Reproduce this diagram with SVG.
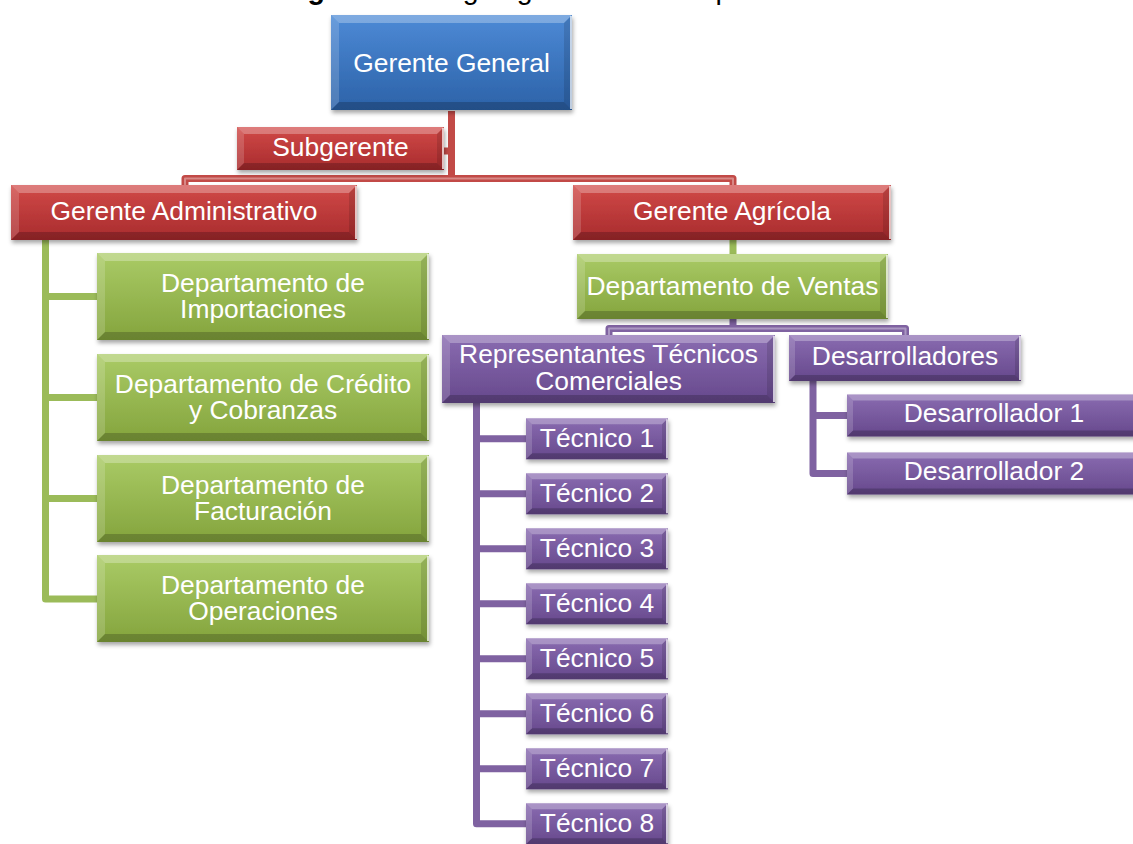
<svg xmlns="http://www.w3.org/2000/svg" xmlns:xlink="http://www.w3.org/1999/xlink" width="1133" height="844" viewBox="0 0 1133 844">
  <style>
    .t { font-family: "Liberation Sans", Arial, sans-serif; font-size: 26.4px; fill: #ffffff; text-anchor: middle; }
    .title { font-family: "Liberation Sans", Arial, sans-serif; font-size: 28.6px; fill: #000000; }
    .bt { fill: #ffffff; opacity: 0.28; }
    .bl { fill: #ffffff; opacity: 0.16; }
    .bb { fill: #000000; opacity: 0.2; }
    .br { fill: #000000; opacity: 0.12; }
    .edge { stroke: #ffffff; stroke-width: 2; opacity: 0.7; fill: none; }
    .blue { fill: url(#gBlue); filter: url(#shadow); }
    .red { fill: url(#gRed); filter: url(#shadow); }
    .green { fill: url(#gGreen); filter: url(#shadow); }
    .purple { fill: url(#gPurple); filter: url(#shadow); }
    .wire { fill: none; stroke-width: 7; stroke-linejoin: round; }
    .wire-hi { fill: none; stroke-width: 2; stroke-linejoin: round; opacity: 0.35; stroke: #ffffff; }
    .w-red { stroke: #c24a47; }
    .w-green { stroke: #9bbb59; }
    .w-purple { stroke: #7f62a1; }
  </style>
  <defs>
    <linearGradient id="gBlue" x1="0" y1="0" x2="0" y2="1">
      <stop offset="0" stop-color="#4d8ad6"/>
      <stop offset="1" stop-color="#2c62a8"/>
    </linearGradient>
    <linearGradient id="gRed" x1="0" y1="0" x2="0" y2="1">
      <stop offset="0" stop-color="#d14a48"/>
      <stop offset="1" stop-color="#a82b2d"/>
    </linearGradient>
    <linearGradient id="gGreen" x1="0" y1="0" x2="0" y2="1">
      <stop offset="0" stop-color="#aacb66"/>
      <stop offset="1" stop-color="#84a43d"/>
    </linearGradient>
    <linearGradient id="gPurple" x1="0" y1="0" x2="0" y2="1">
      <stop offset="0" stop-color="#8a6cb1"/>
      <stop offset="1" stop-color="#66488c"/>
    </linearGradient>
    <filter id="shadow" x="-10%" y="-20%" width="120%" height="160%">
      <feDropShadow dx="1" dy="3" stdDeviation="2" flood-color="#000000" flood-opacity="0.35"/>
    </filter>

    <!-- Department box (green, 332x87) -->
    <g id="deptBox">
      <rect class="green" width="332" height="87"/>
      <polygon class="bt" points="0,0 332,0 324,8 8,8"/>
      <polygon class="bl" points="0,0 8,8 8,79 0,87"/>
      <polygon class="bb" points="0,87 8,79 324,79 332,87"/>
      <polygon class="br" points="332,0 332,87 324,79 324,8"/>
      <line class="edge" x1="331" y1="1" x2="331" y2="86"/>
    </g>
    <!-- Technician box (purple, 142x41) -->
    <g id="tecBox">
      <rect class="purple" width="142" height="41"/>
      <polygon class="bt" points="0,0 142,0 136,6 6,6"/>
      <polygon class="bl" points="0,0 6,6 6,35 0,41"/>
      <polygon class="bb" points="0,41 6,35 136,35 142,41"/>
      <polygon class="br" points="142,0 142,41 136,35 136,6"/>
      <line class="edge" x1="141" y1="1" x2="141" y2="40"/>
    </g>
    <!-- Developer box (purple, 294x42) -->
    <g id="devBox">
      <rect class="purple" width="294" height="42"/>
      <polygon class="bt" points="0,0 294,0 288,6 6,6"/>
      <polygon class="bl" points="0,0 6,6 6,36 0,42"/>
      <polygon class="bb" points="0,42 6,36 288,36 294,42"/>
      <polygon class="br" points="294,0 294,42 288,36 288,6"/>
      <line class="edge" x1="293" y1="1" x2="293" y2="41"/>
    </g>
  </defs>

  <rect width="1133" height="844" fill="#ffffff"/>

  <!-- Caption, running off the top edge -->
  <text class="title" y="-1"><tspan x="282" font-weight="bold">Figura 1.</tspan><tspan x="431">Organigrama de la empresa</tspan></text>

  <!-- Connectors -->
  <g id="connectors">
    <path class="wire w-red" d="M451.5 111 V180 M443 151 H451.5 M185 186 V178.5 H733 V186"/>
    <path class="wire-hi" d="M185 186 V178.5 H733 V186"/>
    <path class="wire w-green" d="M45.5 240 V599 H98 M45.5 296.5 H98 M45.5 397.5 H98 M45.5 498.5 H98 M733 240 V255"/>
    <path class="wire w-purple" d="M733 318 V328.5 M609 336 V328.5 H905.5 V336"/>
    <path class="wire-hi" d="M609 336 V328.5 H905.5 V336"/>
    <path class="wire w-purple" d="M476.5 403 V823.8 H527 M476.5 438.8 H527 M476.5 493.8 H527 M476.5 548.8 H527 M476.5 603.8 H527 M476.5 658.8 H527 M476.5 713.8 H527 M476.5 768.8 H527"/>
    <path class="wire w-purple" d="M813 381 V473.5 H848 M813 415.5 H848"/>
  </g>

  <!-- Nodes -->
  <g id="gerente-general" transform="translate(331,15)">
    <rect class="blue" width="241" height="95"/>
    <polygon class="bt" points="0,0 241,0 233,8 8,8"/>
    <polygon class="bl" points="0,0 8,8 8,87 0,95"/>
    <polygon class="bb" points="0,95 8,87 233,87 241,95"/>
    <polygon class="br" points="241,0 241,95 233,87 233,8"/>
    <line class="edge" x1="240" y1="1" x2="240" y2="94"/>
    <text class="t" x="120.5" y="57">Gerente General</text>
  </g>

  <g id="subgerente" transform="translate(237,127)">
    <rect class="red" width="207" height="43"/>
    <polygon class="bt" points="0,0 207,0 200,7 7,7"/>
    <polygon class="bl" points="0,0 7,7 7,36 0,43"/>
    <polygon class="bb" points="0,43 7,36 200,36 207,43"/>
    <polygon class="br" points="207,0 207,43 200,36 200,7"/>
    <line class="edge" x1="206" y1="1" x2="206" y2="42"/>
    <text class="t" x="103.5" y="29">Subgerente</text>
  </g>

  <g id="gerente-administrativo" transform="translate(11,185)">
    <rect class="red" width="346" height="55"/>
    <polygon class="bt" points="0,0 346,0 338,8 8,8"/>
    <polygon class="bl" points="0,0 8,8 8,47 0,55"/>
    <polygon class="bb" points="0,55 8,47 338,47 346,55"/>
    <polygon class="br" points="346,0 346,55 338,47 338,8"/>
    <line class="edge" x1="345" y1="1" x2="345" y2="54"/>
    <text class="t" x="173" y="34.5">Gerente Administrativo</text>
  </g>

  <g id="gerente-agricola" transform="translate(573,185)">
    <rect class="red" width="318" height="55"/>
    <polygon class="bt" points="0,0 318,0 310,8 8,8"/>
    <polygon class="bl" points="0,0 8,8 8,47 0,55"/>
    <polygon class="bb" points="0,55 8,47 310,47 318,55"/>
    <polygon class="br" points="318,0 318,55 310,47 310,8"/>
    <line class="edge" x1="317" y1="1" x2="317" y2="54"/>
    <text class="t" x="159" y="34.5">Gerente Agrícola</text>
  </g>

  <g id="dep-importaciones" transform="translate(97,253)">
    <use href="#deptBox"/>
    <text class="t" x="166" y="38.6">Departamento de</text>
    <text class="t" x="166" y="65.3">Importaciones</text>
  </g>
  <g id="dep-credito" transform="translate(97,354)">
    <use href="#deptBox"/>
    <text class="t" x="166" y="38.6">Departamento de Crédito</text>
    <text class="t" x="166" y="65.3">y Cobranzas</text>
  </g>
  <g id="dep-facturacion" transform="translate(97,455)">
    <use href="#deptBox"/>
    <text class="t" x="166" y="38.6">Departamento de</text>
    <text class="t" x="166" y="65.3">Facturación</text>
  </g>
  <g id="dep-operaciones" transform="translate(97,555)">
    <use href="#deptBox"/>
    <text class="t" x="166" y="38.6">Departamento de</text>
    <text class="t" x="166" y="65.3">Operaciones</text>
  </g>

  <g id="dep-ventas" transform="translate(577,254)">
    <rect class="green" width="311" height="65"/>
    <polygon class="bt" points="0,0 311,0 303,8 8,8"/>
    <polygon class="bl" points="0,0 8,8 8,57 0,65"/>
    <polygon class="bb" points="0,65 8,57 303,57 311,65"/>
    <polygon class="br" points="311,0 311,65 303,57 303,8"/>
    <line class="edge" x1="310" y1="1" x2="310" y2="64"/>
    <text class="t" x="155.5" y="41">Departamento de Ventas</text>
  </g>

  <g id="representantes" transform="translate(442,335)">
    <rect class="purple" width="333" height="68"/>
    <polygon class="bt" points="0,0 333,0 325,8 8,8"/>
    <polygon class="bl" points="0,0 8,8 8,60 0,68"/>
    <polygon class="bb" points="0,68 8,60 325,60 333,68"/>
    <polygon class="br" points="333,0 333,68 325,60 325,8"/>
    <line class="edge" x1="332" y1="1" x2="332" y2="67"/>
    <text class="t" x="166.5" y="28.3">Representantes Técnicos</text>
    <text class="t" x="166.5" y="55">Comerciales</text>
  </g>

  <g id="desarrolladores" transform="translate(789,335)">
    <rect class="purple" width="232" height="46"/>
    <polygon class="bt" points="0,0 232,0 226,6 6,6"/>
    <polygon class="bl" points="0,0 6,6 6,40 0,46"/>
    <polygon class="bb" points="0,46 6,40 226,40 232,46"/>
    <polygon class="br" points="232,0 232,46 226,40 226,6"/>
    <line class="edge" x1="231" y1="1" x2="231" y2="45"/>
    <text class="t" x="116" y="30">Desarrolladores</text>
  </g>

  <g id="desarrollador-1" transform="translate(847,394.5)">
    <use href="#devBox"/>
    <text class="t" x="147" y="27.3">Desarrollador 1</text>
  </g>
  <g id="desarrollador-2" transform="translate(847,452.5)">
    <use href="#devBox"/>
    <text class="t" x="147" y="27.3">Desarrollador 2</text>
  </g>

  <g id="tecnico-1" transform="translate(526,418.3)">
    <use href="#tecBox"/>
    <text class="t" x="71" y="28.3">Técnico 1</text>
  </g>
  <g id="tecnico-2" transform="translate(526,473.3)">
    <use href="#tecBox"/>
    <text class="t" x="71" y="28.3">Técnico 2</text>
  </g>
  <g id="tecnico-3" transform="translate(526,528.3)">
    <use href="#tecBox"/>
    <text class="t" x="71" y="28.3">Técnico 3</text>
  </g>
  <g id="tecnico-4" transform="translate(526,583.3)">
    <use href="#tecBox"/>
    <text class="t" x="71" y="28.3">Técnico 4</text>
  </g>
  <g id="tecnico-5" transform="translate(526,638.3)">
    <use href="#tecBox"/>
    <text class="t" x="71" y="28.3">Técnico 5</text>
  </g>
  <g id="tecnico-6" transform="translate(526,693.3)">
    <use href="#tecBox"/>
    <text class="t" x="71" y="28.3">Técnico 6</text>
  </g>
  <g id="tecnico-7" transform="translate(526,748.3)">
    <use href="#tecBox"/>
    <text class="t" x="71" y="28.3">Técnico 7</text>
  </g>
  <g id="tecnico-8" transform="translate(526,803.3)">
    <use href="#tecBox"/>
    <text class="t" x="71" y="28.3">Técnico 8</text>
  </g>
</svg>
